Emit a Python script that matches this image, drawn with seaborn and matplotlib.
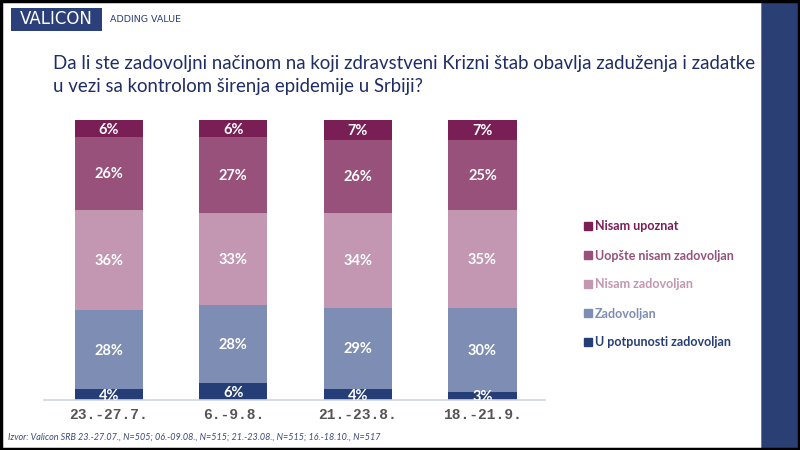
import numpy as np
import pandas as pd
import seaborn as sns
import matplotlib.pyplot as plt
from matplotlib.patches import Rectangle
from matplotlib.lines import Line2D

sns.set_theme(style="white")
plt.rcParams["font.family"] = ["Lato", "DejaVu Sans"]

# ── Data ───────────────────────────────────────────────────
periods = ["23.-27.7.", "6.-9.8.", "21.-23.8.", "18.-21.9."]
categories = ["U potpunosti zadovoljan", "Zadovoljan", "Nisam zadovoljan",
              "Uopšte nisam zadovoljan", "Nisam upoznat"]
u_potpunosti = [4, 6, 4, 3]
zadovoljan = [28, 28, 29, 30]
nisam_zadovoljan = [36, 33, 34, 35]
uopste_nisam = [26, 27, 26, 25]
nisam_upoznat = [6, 6, 7, 7]
colors = ["#263E78", "#7E8DB3", "#C397B1", "#97517A", "#7A1F55"]
source_note = ("Izvor: Valicon SRB 23.-27.07., N=505; 06.-09.08., N=515; "
               "21.-23.08., N=515; 16.-18.10., N=517")

df = pd.DataFrame({
    "period": periods,
    categories[0]: u_potpunosti,
    categories[1]: zadovoljan,
    categories[2]: nisam_zadovoljan,
    categories[3]: uopste_nisam,
    categories[4]: nisam_upoznat,
})
cum = df[categories].cumsum(axis=1)

# ── Figure ─────────────────────────────────────────────────
fig = plt.figure(figsize=(8, 4.5), dpi=100)
ax = fig.add_axes([0.055, 0.111, 0.626, 0.622])

# stacked bars: draw cumulative totals from the top layer down
for cat, col in zip(categories[::-1], colors[::-1]):
    sns.barplot(x=df["period"], y=cum[cat], color=col, saturation=1,
                width=0.547, linewidth=0, ax=ax)

# white value labels in the middle of each segment
for i in range(len(periods)):
    base = 0
    for cat in categories:
        v = df.loc[i, cat]
        ax.text(i, base + v / 2 - 0.4, f"{v}%", ha="center", va="center",
                color="white", fontsize=10.5, fontweight="bold", clip_on=True)
        base += v

ax.set_xlim(-0.52, 3.5)
ax.set_ylim(0, 100)
ax.set_xlabel("")
ax.set_ylabel("")
ax.set_yticks([])
ax.set_xticks(range(len(periods)))
ax.set_xticklabels(periods, family="Liberation Mono", fontsize=10.5,
                   fontweight="bold", color="#555555")
ax.tick_params(axis="x", length=0, pad=6)
for s in ["top", "right", "left"]:
    ax.spines[s].set_visible(False)
ax.spines["bottom"].set_color("#D3D5E0")
ax.spines["bottom"].set_linewidth(1.2)

# legend (top category first), coloured bold text
handles = [Line2D([0], [0], marker="s", linestyle="", markersize=6,
                  markerfacecolor=c, markeredgecolor=c)
           for c in colors[::-1]]
leg = fig.legend(handles, categories[::-1], loc="upper left",
                 bbox_to_anchor=(0.716, 0.535), frameon=False,
                 handlelength=0.6, handletextpad=0.25, labelspacing=1.36,
                 prop={"weight": "bold", "size": 9},
                 labelcolor=colors[::-1])

# title
fig.text(0.066, 0.833, "Da li ste zadovoljni načinom na koji zdravstveni Krizni štab "
         "obavlja zaduženja i zadatke\nu vezi sa kontrolom širenja epidemije u Srbiji?",
         ha="left", va="center", fontsize=13.4, color="#1F2D66", linespacing=1.4)

# header logo
fig.patches.append(Rectangle((0.014, 0.931), 0.114, 0.051, transform=fig.transFigure,
                             facecolor="#2B3F7A", edgecolor="none"))
fig.text(0.071, 0.957, "VALICON", ha="center", va="center", color="white",
         fontsize=12, family="DejaVu Sans")
fig.text(0.138, 0.957, "ADDING VALUE", ha="left", va="center", color="#2B3F7A",
         fontsize=6.8, family="DejaVu Sans")

# right band
fig.patches.append(Rectangle((0.952, 0), 0.048, 1, transform=fig.transFigure,
                             facecolor="#2A3F73", edgecolor="none"))
fig.patches.append(Rectangle((0.951, 0), 0.002, 1, transform=fig.transFigure,
                             facecolor="#6B7BA8", edgecolor="none"))

# footer
fig.text(0.01, 0.029, source_note, ha="left", va="center", fontsize=6.5,
         style="italic", color="#3A4A7A")

# black frame
fig.patches.append(Rectangle((0.0015, 0.0025), 0.997, 0.995, transform=fig.transFigure,
                             facecolor="none", edgecolor="black", linewidth=2.5))

fig.savefig("out.png", dpi=100)
